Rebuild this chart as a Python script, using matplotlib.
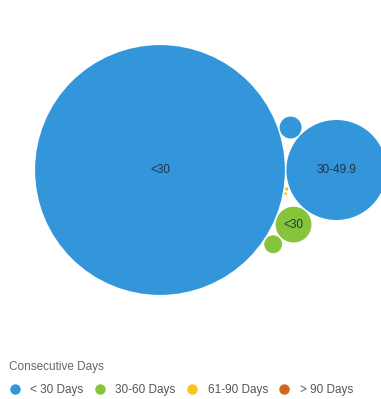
import numpy as np
import matplotlib.pyplot as plt
from matplotlib.patches import Circle
from matplotlib.lines import Line2D

plt.rcParams['font.family'] = ['Liberation Sans', 'DejaVu Sans']

# bubbles: label shown inside, consecutive-days group, value (bubble area)
labels = ['<30', '30-49.9', '50-69.9', '<30', '30-49.9', '<30', '30-49.9']
groups = ['< 30 Days', '< 30 Days', '< 30 Days', '30-60 Days', '30-60 Days', '61-90 Days', '61-90 Days']
values = [156.0, 25.0, 1.2, 3.2, 0.8, 0.03, 0.02]

legend_names = ['< 30 Days', '30-60 Days', '61-90 Days', '> 90 Days']
legend_colors = ['#3396da', '#86c43c', '#f7c51b', '#d2651c']
color_of = dict(zip(legend_names, legend_colors))


def pack(radii, grp, pad=1.5):
    # greedy packing: each new circle touches two placed ones, as close to the centroid as possible,
    # and sticks to the last bubble of its own group when there is one
    pos = [np.array([0.0, 0.0])]
    if len(radii) > 1:
        pos.append(np.array([radii[0] + radii[1] + pad, 0.0]))
    for i in range(2, len(radii)):
        r = radii[i]
        w = np.array([radii[j] ** 2 for j in range(i)])
        cen = (np.array(pos) * w[:, None]).sum(axis=0) / w.sum()
        same = [j for j in range(i) if grp[j] == grp[i]]
        anchor = same[-1] if same else None
        found = {True: (None, None), False: (None, None)}
        for a in range(i):
            for b in range(a + 1, i):
                A, B = pos[a], pos[b]
                da, db = radii[a] + r + pad, radii[b] + r + pad
                d = np.linalg.norm(B - A)
                if d > da + db or d < abs(da - db):
                    continue
                k = (da ** 2 - db ** 2 + d ** 2) / (2 * d)
                h = np.sqrt(max(da ** 2 - k ** 2, 0))
                u = (B - A) / d
                perp = np.array([-u[1], u[0]])
                touches = anchor in (a, b)
                for p in (A + k * u - h * perp, A + k * u + h * perp):
                    ok = all(np.linalg.norm(p - pos[j]) >= radii[j] + r + pad - 1e-6 for j in range(i))
                    if not ok:
                        continue
                    dist = np.linalg.norm(p - cen)
                    best, best_d = found[touches]
                    if best_d is None or dist < best_d - 1e-9:
                        found[touches] = (p, dist)
        pos.append(found[True][0] if found[True][0] is not None else found[False][0])
    return pos


radii = [10 * np.sqrt(v) for v in values]
centers = pack(radii, groups)

fig = plt.figure(figsize=(3.81, 3.99), dpi=100)
ax = fig.add_axes([0, 0, 1, 1])
ax.set_xlim(0, 381)
ax.set_ylim(399, 0)
ax.set_aspect('equal')
ax.axis('off')

ox, oy = 160, 170
for lab, g, r, c in zip(labels, groups, radii, centers):
    ax.add_patch(Circle((c[0] + ox, c[1] + oy), r, color=color_of[g], lw=0))
    if r >= 15:
        ax.text(c[0] + ox, c[1] + oy, lab, ha='center', va='center',
                fontsize=8.5, color='#1f3347')

handles = [Line2D([], [], marker='o', ls='', markersize=7.5, color=col,
                  markeredgewidth=0) for col in legend_colors]
leg = fig.legend(handles, legend_names, loc='upper left', bbox_to_anchor=(0.0115, 0.106),
                 ncol=4, frameon=False, fontsize=8.5, title='Consecutive Days',
                 title_fontsize=8.5, handletextpad=0.8, columnspacing=0.9,
                 handlelength=1.0, labelspacing=0.9, borderaxespad=0, alignment='left')
for t in leg.get_texts():
    t.set_color('#555555')
leg.get_title().set_color('#666666')

fig.savefig('out.png', dpi=100)
